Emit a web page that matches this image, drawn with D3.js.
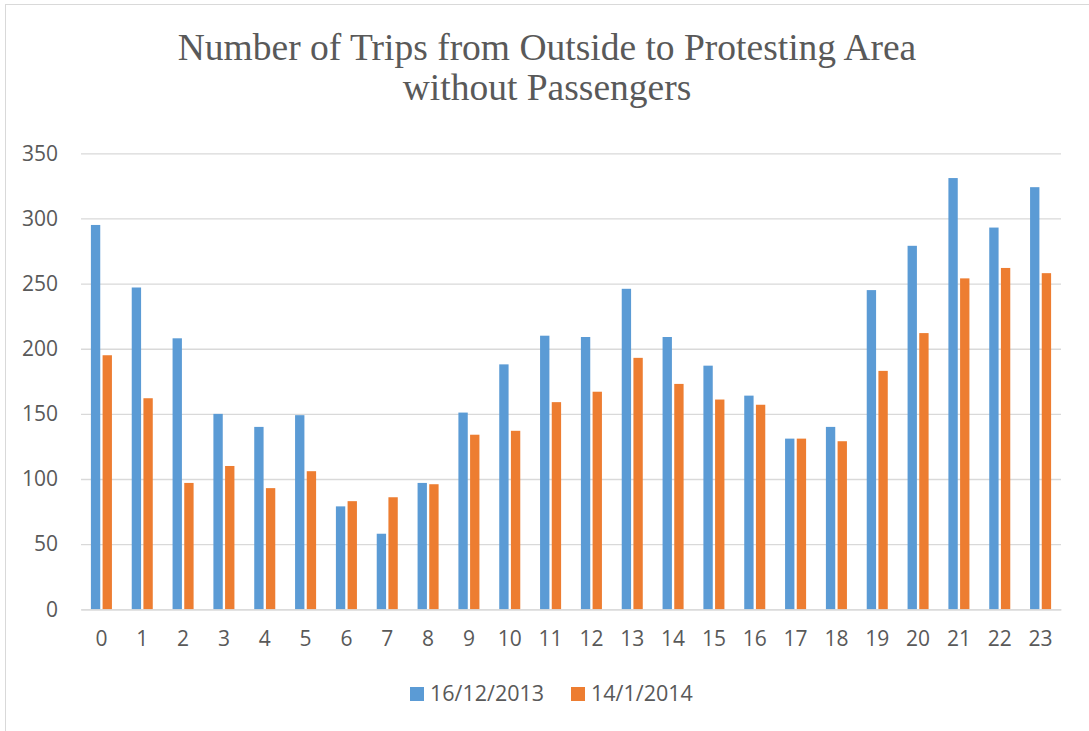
<!DOCTYPE html>
<html>
<head>
<meta charset="utf-8">
<script src="https://cdn.jsdelivr.net/npm/d3@7"></script>
<style>
  html, body { margin: 0; padding: 0; background: #fff; }
  svg { display: block; }
</style>
</head>
<body>
<svg id="chart" width="1089" height="731"></svg>
<script>
// ---- data ----
const hours = ["0","1","2","3","4","5","6","7","8","9","10","11","12","13","14","15","16","17","18","19","20","21","22","23"];
const seriesNames = ["16/12/2013", "14/1/2014"];
const trips2013 = [295, 247, 208, 150, 140, 149, 79, 58, 97, 151, 188, 210, 209, 246, 209, 187, 164, 131, 140, 245, 279, 331, 293, 324];
const trips2014 = [195, 162, 97, 110, 93, 106, 83, 86, 96, 134, 137, 159, 167, 193, 173, 161, 157, 131, 129, 183, 212, 254, 262, 258];
const yTicks = [0, 50, 100, 150, 200, 250, 300, 350];
const titleLines = ["Number of Trips from Outside to Protesting Area", "without Passengers"];

const colors = ["#5B9BD5", "#ED7D31"];
const seriesValues = [trips2013, trips2014];

const svg = d3.select("#chart");
const W = 1089, H = 731;
const margin = { left: 81, right: 28, top: 153.3, bottom: 121.7 };
const plotW = W - margin.left - margin.right;
const plotH = H - margin.top - margin.bottom;

// chart border (top + left)
svg.append("line").attr("x1", 5).attr("x2", W).attr("y1", 4.5).attr("y2", 4.5)
  .attr("stroke", "#d9d9d9").attr("stroke-width", 1);
svg.append("line").attr("x1", 5.5).attr("x2", 5.5).attr("y1", 4).attr("y2", H)
  .attr("stroke", "#d9d9d9").attr("stroke-width", 1);

// title
const title = svg.append("text")
  .attr("text-anchor", "middle")
  .attr("font-family", "'Liberation Serif', 'Times New Roman', serif")
  .attr("font-size", 37.5)
  .attr("fill", "#595959");
titleLines.forEach((t, i) => {
  title.append("tspan").attr("x", 547).attr("y", 60 + i * 40).text(t);
});

const g = svg.append("g").attr("transform", `translate(${margin.left},${margin.top})`);

const x0 = d3.scaleBand().domain(hours).range([0, plotW]).paddingInner(0.485).paddingOuter(0.2425);
const x1 = d3.scaleBand().domain(seriesNames).range([0, x0.bandwidth()]).paddingInner(0.2);
const y = d3.scaleLinear().domain([0, 350]).range([plotH, 0]);

// gridlines
const yAxis = d3.axisLeft(y).tickValues(yTicks).tickSize(-plotW).tickPadding(23);
const ya = g.append("g").call(yAxis);
ya.select(".domain").remove();
ya.selectAll(".tick line").attr("stroke", "#d9d9d9").attr("stroke-width", 1.3);
ya.selectAll(".tick text")
  .attr("font-family", "'Open Sans', sans-serif")
  .attr("font-size", 21)
  .attr("fill", "#595959");

// bars
const groups = g.append("g").selectAll("g")
  .data(hours)
  .join("g")
  .attr("transform", d => `translate(${x0(d)},0)`);

groups.selectAll("rect")
  .data((d, i) => seriesNames.map((s, k) => ({ s, k, v: seriesValues[k][i] })))
  .join("rect")
  .attr("x", d => x1(d.s))
  .attr("width", x1.bandwidth())
  .attr("y", d => y(d.v))
  .attr("height", d => plotH - y(d.v))
  .attr("fill", d => colors[d.k]);

// x axis
const xAxis = d3.axisBottom(x0).tickSize(0).tickPadding(22);
const xa = g.append("g").attr("transform", `translate(0,${plotH})`).call(xAxis);
xa.select(".domain").attr("stroke", "#d9d9d9").attr("stroke-width", 1.3);
xa.selectAll(".tick text")
  .attr("font-family", "'Open Sans', sans-serif")
  .attr("font-size", 21)
  .attr("fill", "#595959");

// legend
const legendItems = [{ x: 410, label: seriesNames[0], c: colors[0] }, { x: 571, label: seriesNames[1], c: colors[1] }];
const lg = svg.append("g");
legendItems.forEach(it => {
  lg.append("rect").attr("x", it.x).attr("y", 687).attr("width", 14).attr("height", 14).attr("fill", it.c);
  lg.append("text").attr("x", it.x + 20).attr("y", 701)
    .attr("font-family", "'Open Sans', sans-serif")
    .attr("font-size", 21.5)
    .attr("fill", "#595959")
    .text(it.label);
});
</script>
</body>
</html>
